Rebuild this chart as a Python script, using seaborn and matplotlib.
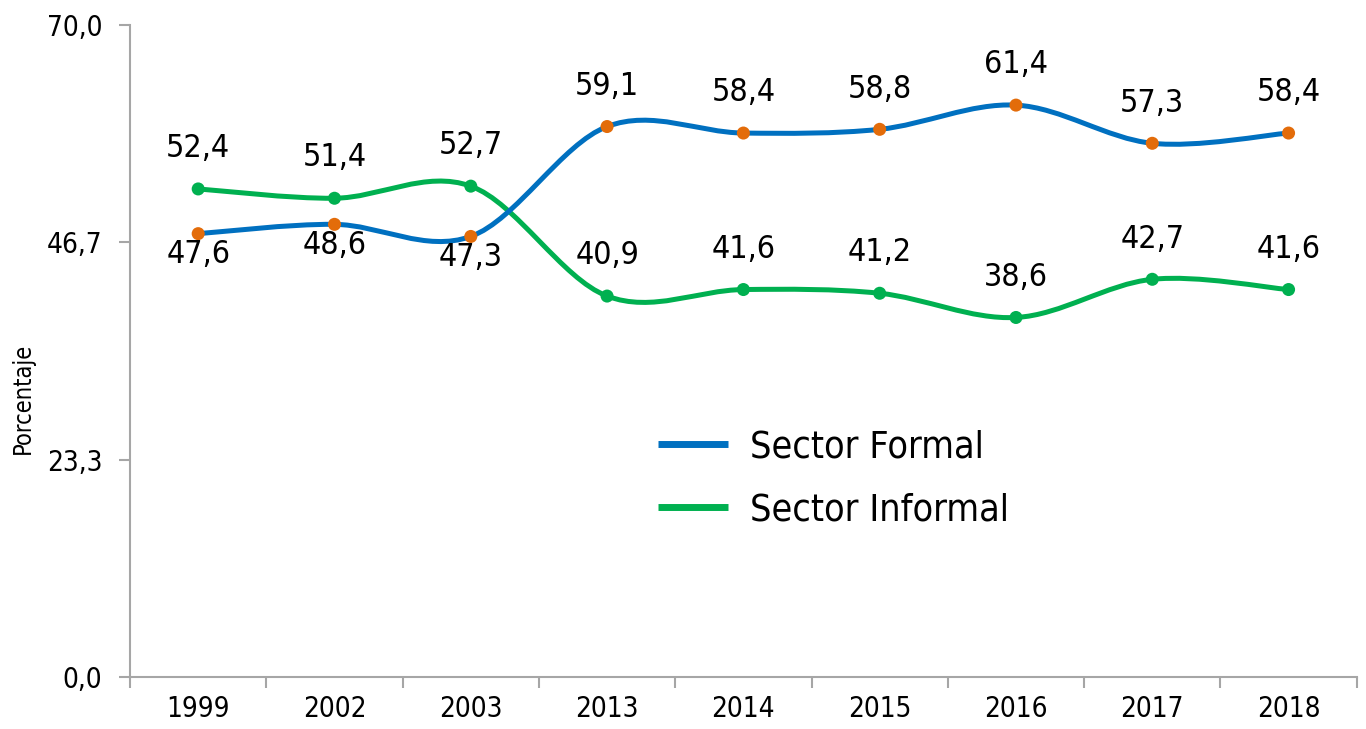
import numpy as np
import matplotlib
matplotlib.use("Agg")
import matplotlib.pyplot as plt
from matplotlib.path import Path
from matplotlib.patches import PathPatch
from matplotlib.lines import Line2D
import pandas as pd
import seaborn as sns

years = ["1999", "2002", "2003", "2013", "2014", "2015", "2016", "2017", "2018"]
formal = [47.6, 48.6, 47.3, 59.1, 58.4, 58.8, 61.4, 57.3, 58.4]
informal = [52.4, 51.4, 52.7, 40.9, 41.6, 41.2, 38.6, 42.7, 41.6]
y_ticks = [0.0, 70 / 3, 140 / 3, 70.0]
y_tick_labels = ["0,0", "23,3", "46,7", "70,0"]

blue = "#0070C0"
green = "#00B050"
orange = "#E36C0A"
grey = "#A6A6A6"

sns.set_style("white")
plt.rcParams['font.family'] = ['Liberation Sans Narrow', 'DejaVu Sans']
plt.rcParams['font.stretch'] = 'condensed'
plt.rcParams['text.color'] = 'black'
plt.rcParams['xtick.color'] = 'black'
plt.rcParams['ytick.color'] = 'black'
plt.rcParams['axes.labelcolor'] = 'black'


def smooth_path(xs, ys):
    # bezier segments like the office "smoothed line"
    pts = np.column_stack([xs, ys]).astype(float)
    n = len(pts)
    verts = [pts[0]]
    codes = [Path.MOVETO]
    for i in range(n - 1):
        p0 = pts[i - 1] if i > 0 else pts[i]
        p1 = pts[i]
        p2 = pts[i + 1]
        p3 = pts[i + 2] if i + 2 < n else pts[i + 1]
        c1 = p1 + (p2 - p0) / 6
        c2 = p2 - (p3 - p1) / 6
        verts += [c1, c2, p2]
        codes += [Path.CURVE4] * 3
    return Path(verts, codes)


fig = plt.figure(figsize=(13.66, 7.29), dpi=100)
ax = fig.add_axes([0.0952, 0.0713, 0.898, 0.8944])

x = np.arange(len(years))
df = pd.DataFrame({"x": np.concatenate([x, x]),
                   "v": formal + informal,
                   "s": ["Sector Formal"] * len(x) + ["Sector Informal"] * len(x)})

ax.add_patch(PathPatch(smooth_path(x, informal), fill=False, edgecolor=green, lw=3.6, zorder=2))
ax.add_patch(PathPatch(smooth_path(x, formal), fill=False, edgecolor=blue, lw=3.6, zorder=2))

sns.scatterplot(data=df, x="x", y="v", hue="s", palette={"Sector Formal": orange, "Sector Informal": green},
                s=88, edgecolor="none", legend=False, ax=ax, zorder=3)

for i, v in enumerate(formal):
    off = 29 if i >= 3 else -15
    ax.annotate(f"{v:.1f}".replace(".", ","), (i, v), xytext=(0, off), textcoords="offset points",
                ha="center", va="center", fontsize=23)
for i, v in enumerate(informal):
    ax.annotate(f"{v:.1f}".replace(".", ","), (i, v), xytext=(0, 29), textcoords="offset points",
                ha="center", va="center", fontsize=23)

ax.set_xlim(-0.5, len(years) - 0.5)
ax.set_ylim(0, 70)
ax.set_xticks(np.arange(-0.5, len(years)), [""] * (len(years) + 1))
ax.set_xticks(x, years, minor=True)
ax.tick_params(axis="x", which="major", bottom=True, length=8, width=1.5, color=grey, direction="out")
ax.tick_params(axis="x", which="minor", bottom=True, length=0, labelsize=20, pad=13)
ax.set_yticks(y_ticks, y_tick_labels)
ax.tick_params(axis="y", left=True, length=8, width=1.5, color=grey, direction="out", labelsize=20, pad=12)
ax.set_xlabel("")
ax.set_ylabel("Porcentaje", fontsize=17)
ax.yaxis.set_label_coords(-0.0774, 0.428)

for side in ["top", "right"]:
    ax.spines[side].set_visible(False)
for side in ["left", "bottom"]:
    ax.spines[side].set_color(grey)
    ax.spines[side].set_linewidth(1.5)

handles = [Line2D([], [], color=blue, lw=5, solid_capstyle="butt"),
           Line2D([], [], color=green, lw=5, solid_capstyle="butt")]
ax.legend(handles, ["Sector Formal", "Sector Informal"], loc="upper left",
          bbox_to_anchor=(0.403, 0.432), frameon=False, fontsize=27,
          handlelength=1.85, handletextpad=0.6, labelspacing=0.72)

fig.savefig("out.png", dpi=100)
